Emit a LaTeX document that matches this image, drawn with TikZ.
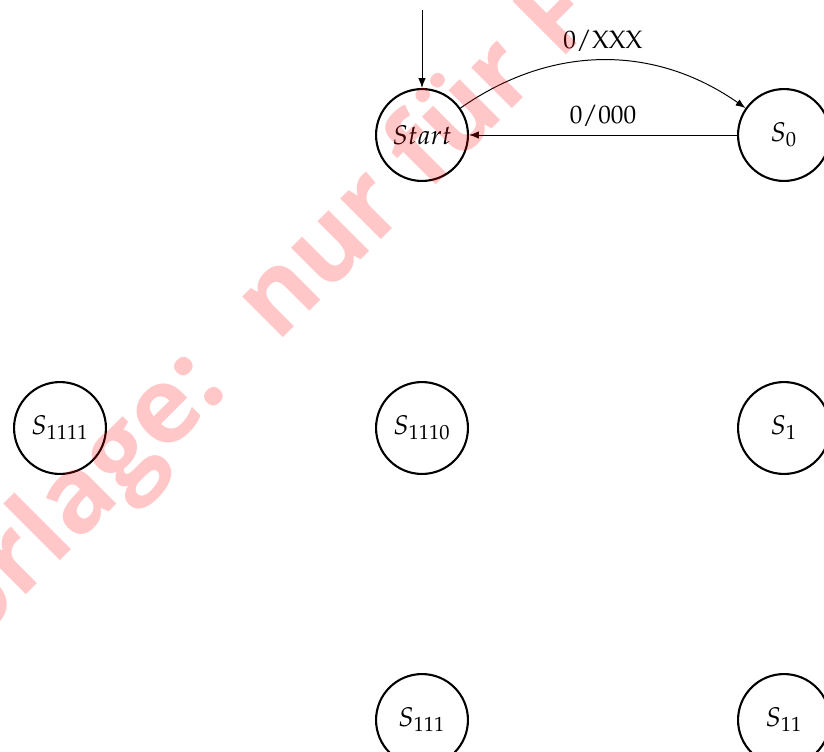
\documentclass[tikz,border=0pt]{standalone}
\usepackage[no-math]{fontspec}
\usepackage{mathpazo}
\newfontfamily\markfont{Open Sans}[UprightFont=* Bold]
\usetikzlibrary{arrows.meta,calc}

\newcommand\stampfont{\markfont\fontsize{43pt}{43pt}\selectfont}
\newlength\stamplead

\tikzset{
  state/.style={circle, draw, line width=0.85pt, minimum size=37.5pt, inner sep=0pt,
    font=\fontsize{11pt}{13pt}\selectfont},
  trans/.style={line width=0.4pt, -{Latex[length=4pt,width=3pt]}},
  translabel/.style={above, inner sep=3.33pt, font=\fontsize{10.3pt}{12pt}\selectfont},
  stamp/.style={text=red, text opacity=0.22, font=\stampfont,
    rotate=45, anchor=base west, inner sep=0pt}
}

\begin{document}
\settowidth\stamplead{\stampfont Vorlage:\hspace{0.64em}}
\begin{tikzpicture}[x=0.408pt, y=-0.408pt]
  % page frame
  \useasboundingbox (0,0) rectangle (824,751);
  \clip (0,0) rectangle (824,751);

  % states
  \node[state] (start) at (422,135) {$Start$};
  \node[state] (s0)    at (784,135) {$S_0$};
  \node[state] (s1111) at (60,428)  {$S_{1111}$};
  \node[state] (s1110) at (422,428) {$S_{1110}$};
  \node[state] (s1)    at (784,428) {$S_1$};
  \node[state] (s111)  at (422,720) {$S_{111}$};
  \node[state] (s11)   at (784,720) {$S_{11}$};

  % initial arrow
  \coordinate (init) at (422,10);
  \draw[trans] (init) -- (start.north);

  % transitions
  \draw[trans] (start) to[bend left=35] node[translabel] {$0/\mathrm{XXX}$} (s0);
  \draw[trans] (s0.west) -- node[translabel] {$0/\mathrm{000}$} (start.east);

  % watermark, placed so that "nur" starts at (283,338)
  \coordinate (nurfoot) at (283,338);
  \coordinate (stampfoot) at ($(nurfoot)+(225:\stamplead+3.3pt)$);
  \node[stamp] (stamp) at (stampfoot) {Vorlage:\hspace{0.64em}nur für F};
\end{tikzpicture}
\end{document}
